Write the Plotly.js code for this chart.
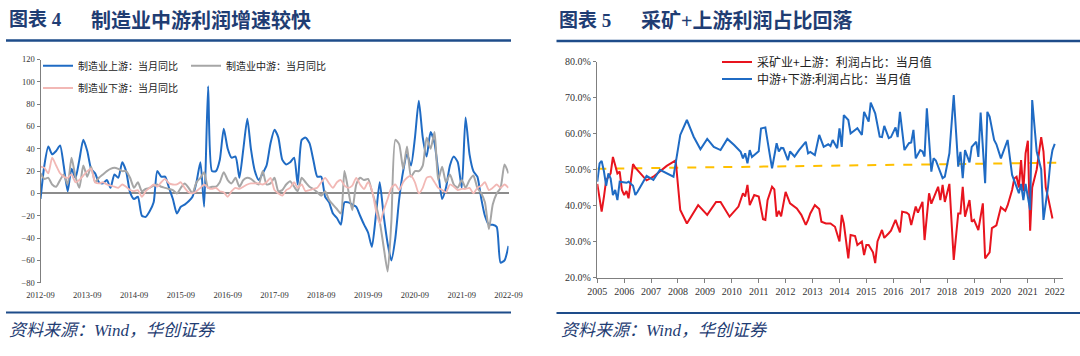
<!DOCTYPE html>
<html><head><meta charset="utf-8">
<script src="https://cdn.plot.ly/plotly-3.0.1.min.js"></script>
<style>html,body{margin:0;padding:0;background:#fff;}#chart{width:1080px;height:356px;}</style>
</head><body><div id="chart"></div>
<script>
// ---------- Chart 4: monthly YoY (%) ----------
const months = ['2012-09','2012-10','2012-11','2012-12',
'2013-01','2013-02','2013-03','2013-04','2013-05','2013-06','2013-07','2013-08','2013-09','2013-10','2013-11','2013-12',
'2014-01','2014-02','2014-03','2014-04','2014-05','2014-06','2014-07','2014-08','2014-09','2014-10','2014-11','2014-12',
'2015-01','2015-02','2015-03','2015-04','2015-05','2015-06','2015-07','2015-08','2015-09','2015-10','2015-11','2015-12',
'2016-01','2016-02','2016-03','2016-04','2016-05','2016-06','2016-07','2016-08','2016-09','2016-10','2016-11','2016-12',
'2017-01','2017-02','2017-03','2017-04','2017-05','2017-06','2017-07','2017-08','2017-09','2017-10','2017-11','2017-12',
'2018-01','2018-02','2018-03','2018-04','2018-05','2018-06','2018-07','2018-08','2018-09','2018-10','2018-11','2018-12',
'2019-01','2019-02','2019-03','2019-04','2019-05','2019-06','2019-07','2019-08','2019-09','2019-10','2019-11','2019-12',
'2020-01','2020-02','2020-03','2020-04','2020-05','2020-06','2020-07','2020-08','2020-09','2020-10','2020-11','2020-12',
'2021-01','2021-02','2021-03','2021-04','2021-05','2021-06','2021-07','2021-08','2021-09','2021-10','2021-11','2021-12',
'2022-01','2022-02','2022-03','2022-04','2022-05','2022-06','2022-07','2022-08','2022-09'];

const upstream = [-5,25,42,35,38,43,25,2,22,14,
30,48,38,22,18,10,9,12,5,17,
14,28,20,1,-5,-3,-20,-21,-16,-8,
20,15,15,5,-5,-18,-12,-10,-7,-3,
10,28,-12,96,20,20,30,58,40,32,
33,14,40,67,40,20,12,18,25,45,
57,50,30,26,28,32,8,48,50,45,
30,15,15,-3,-8,-18,-22,-28,-8,-8,
-10,-12,-20,-28,-35,-48,-20,10,-20,-45,
-60,-40,-5,20,35,25,50,83,50,33,
55,45,20,-5,5,25,33,28,5,68,
35,20,15,-5,-20,-28,-28,-30,-62,-60,
-47];

const midstream = [18,13,14,8,6,12,17,8,32,15,
5,25,15,24,10,14,17,20,22,23,
22,20,20,14,5,10,2,4,5,7,
8,6,5,4,3,0,5,9,5,0,
10,14,19,5,6,6,10,19,12,9,
14,6,12,14,13,10,8,20,8,9,
14,2,3,8,11,6,2,14,10,6,
4,1,-2,2,-6,-10,-14,-18,20,2,
-15,8,14,12,13,2,-10,-25,-48,-70,
-25,48,44,22,42,15,20,20,25,50,
40,55,12,24,10,17,8,5,12,5,
12,16,5,0,-8,-32,-10,0,5,26,
18];

const downstream = [24,23,18,32,25,18,15,14,17,10,
12,16,20,22,10,9,10,8,7,6,
5,8,6,3,2,3,-3,2,5,8,
6,10,13,9,8,8,10,5,1,0,
2,5,8,5,4,5,2,1,-3,2,
5,4,6,8,9,9,9,8,10,14,
3,0,-2,3,5,10,5,8,2,3,
4,5,10,14,9,5,10,12,7,5,
7,14,8,4,10,3,-15,-27,-15,-5,
5,8,3,10,14,16,10,0,5,14,
15,10,5,3,1,8,6,3,4,4,
5,0,5,7,10,3,5,8,5,8,
5];

// ---------- Chart 5: profit share (%) ----------
const redDates = ['2005-01','2005-02','2005-03','2005-04','2005-05','2005-07','2005-08','2005-09','2005-10','2005-11','2005-12',
'2006-01','2006-02','2006-03','2006-05','2006-06','2006-08','2006-11','2007-02','2007-05','2007-08','2007-12',
'2008-02','2008-05','2008-10','2009-02','2009-06','2009-08','2009-12','2010-04','2010-06','2010-07','2010-08','2010-09','2010-11',
'2011-01','2011-03','2011-04','2011-05','2011-07','2011-08','2011-09','2011-10','2011-11','2012-01','2012-03','2012-06','2012-08','2012-10','2012-11','2012-12',
'2013-02','2013-04','2013-05','2013-07','2013-09','2013-11','2014-01','2014-02','2014-03','2014-05','2014-06','2014-08','2014-09','2014-11','2014-12',
'2015-01','2015-02','2015-04','2015-05','2015-06','2015-08','2015-09','2015-11','2015-12','2016-02','2016-03','2016-04','2016-05','2016-07','2016-08','2016-09','2016-11','2016-12',
'2017-02','2017-03','2017-05','2017-06','2017-09','2017-10','2017-11','2017-12','2018-02','2018-04','2018-06','2018-07','2018-08','2018-09','2018-11','2018-12',
'2019-01','2019-03','2019-05','2019-06','2019-08','2019-09','2019-11','2019-12','2020-01','2020-03','2020-04','2020-06','2020-07','2020-08','2020-09','2020-10','2020-11','2020-12',
'2021-01','2021-02','2021-03','2021-05','2021-07','2021-08','2021-09','2021-10','2021-12'];
const redVals = [46,41.5,38.3,42.4,47,48.9,53.5,51.2,48.9,49.4,44.3,
42.9,44,42,51.5,50.5,49,47,48,49.5,51,52.5,
38.75,35,40.1,37.4,41,41,36.9,39.7,43.4,42.5,45.7,40.1,42.9,
42.5,36.2,36,41.5,45.2,44.5,36.9,38.5,37,43.8,40.6,39.2,37.4,34.6,36,37.8,
40.1,39,35.5,35,35,34.1,30,37.4,35,25.3,31.8,31.5,29,30,26.25,
29,29,27,24,30,33.2,31,32.3,33,36,34.5,32.5,38.3,38,37.5,34.6,39.7,38,
41,30.4,43.4,40.5,45.2,41.5,45.7,41,46,24.9,37.8,37.8,45.2,36.9,41.5,35.5,
36,33.2,40.6,25.3,27,33.7,34.5,36.9,39.5,38.5,40,44.3,47.5,48,45,52.6,44,54.5,
58,33,45,50,59,55,45,42.4,36.4];

const blueDates = ['2005-01','2005-02','2005-03','2005-04','2005-05','2005-06','2005-07','2005-08','2005-09','2005-10','2005-11',
'2006-02','2006-03','2006-05','2006-06','2006-07','2006-11','2007-02','2007-05','2007-08','2007-11',
'2008-02','2008-05','2008-08','2008-11','2009-02','2009-05','2009-08','2009-11','2010-02','2010-05','2010-06','2010-07','2010-08','2010-09','2010-10','2010-11',
'2011-01','2011-02','2011-04','2011-06','2011-07','2011-09','2011-10','2011-11','2011-12','2012-02','2012-03','2012-05','2012-07','2012-10','2012-11','2012-12',
'2013-02','2013-04','2013-06','2013-08','2013-09','2013-10','2013-12','2014-01','2014-02','2014-03','2014-05','2014-06','2014-08','2014-09','2014-11','2014-12',
'2015-02','2015-03','2015-05','2015-07','2015-08','2015-09','2015-11','2015-12','2016-02','2016-03','2016-04','2016-06','2016-08','2016-09','2016-10','2016-11',
'2017-01','2017-02','2017-03','2017-04','2017-06','2017-07','2017-08','2017-10','2017-11','2017-12','2018-02','2018-04','2018-06','2018-07','2018-08','2018-09','2018-11','2018-12',
'2019-02','2019-03','2019-04','2019-06','2019-07','2019-08','2019-10','2019-11','2020-01','2020-04','2020-06','2020-08','2020-09','2020-10','2020-11','2020-12',
'2021-02','2021-03','2021-05','2021-07','2021-08','2021-10','2021-11','2021-12','2022-01'];
const blueVals = [46.6,51.7,52.4,49.5,45.5,48.9,47.5,42.9,44.3,41.5,46.6,
46.3,46.6,45.5,42.9,43.8,48.2,47.1,49.9,48.9,48,
59.6,63.75,59.1,55.6,58.5,56.3,55.4,58.5,56.8,54.9,53.1,54.5,51.7,55.4,53.5,54,
55.1,61.4,61.7,54,50.3,57.3,55,56,55.9,52.6,55,53.6,55.4,57.7,54.5,54.9,
54,59.6,56.3,57,56.5,58.2,55.9,61.4,56.3,65.1,63.75,60,61,61.5,59.6,66,
63.3,68.6,65.6,59.1,59,62.1,58.7,59,61.7,59,66,55.4,57.3,57.5,61,53.1,
55.4,55,53.6,67,49.4,53.1,52.5,49.4,47.6,48,54.5,70.7,50.8,54.9,47.6,55.4,52,56.3,
57.7,53.5,65.8,46.2,66,64.7,58.2,57,53.1,58.2,48.5,45.2,43.4,46,41.5,46,
38.75,69.3,55,50,36,45,51.7,55.4,57.1];

const trendDates = ['2005-01','2022-04'];
const trendVals = [50.2, 51.9];

// ---------- layout helpers (pixel -> paper) ----------
const W = 1080, H = 356;
const fx = x => x / W;
const fy = y => 1 - y / H;

const tickFontL = {family: 'Liberation Serif, Times New Roman, serif', size: 8.5, color: '#333'};
const tickFontR = {family: 'Liberation Serif, Times New Roman, serif', size: 10, color: '#333'};
const cjk = 'Noto Sans CJK SC, sans-serif';
const navy = '#1F3D73';
const ruleColor = '#1E4C8A';

const traces = [
  {x: months, y: upstream, type: 'scatter', mode: 'lines', name: '制造业上游：当月同比',
   line: {color: '#1F6BC4', width: 2, shape: 'spline', smoothing: 0.6}, xaxis: 'x', yaxis: 'y', legend: 'legend'},
  {x: months, y: midstream, type: 'scatter', mode: 'lines', name: '制造业中游：当月同比',
   line: {color: '#A6A6A6', width: 2, shape: 'spline', smoothing: 0.6}, xaxis: 'x', yaxis: 'y', legend: 'legend'},
  {x: months, y: downstream, type: 'scatter', mode: 'lines', name: '制造业下游：当月同比',
   line: {color: '#F2B8B5', width: 1.8, shape: 'spline', smoothing: 0.6}, xaxis: 'x', yaxis: 'y', legend: 'legend2'},
  {x: trendDates, y: trendVals, type: 'scatter', mode: 'lines', showlegend: false, hoverinfo: 'skip',
   line: {color: '#FFC000', width: 2, dash: 'dash'}, xaxis: 'x2', yaxis: 'y2'},
  {x: redDates, y: redVals, type: 'scatter', mode: 'lines', name: '采矿业+上游：利润占比：当月值',
   line: {color: '#E8141E', width: 2}, xaxis: 'x2', yaxis: 'y2', legend: 'legend3'},
  {x: blueDates, y: blueVals, type: 'scatter', mode: 'lines', name: '中游+下游:利润占比：当月值',
   line: {color: '#1F6BC4', width: 2}, xaxis: 'x2', yaxis: 'y2', legend: 'legend4'}
];

const legendBase = {orientation: 'h', bgcolor: 'rgba(0,0,0,0)', borderwidth: 0, yanchor: 'middle', xanchor: 'left',
  font: {family: cjk, size: 10, color: '#222'}, itemwidth: 30};

const layout = {
  width: W, height: H, margin: {l: 0, r: 0, t: 0, b: 0},
  paper_bgcolor: '#fff', plot_bgcolor: 'rgba(0,0,0,0)',
  xaxis: {domain: [fx(40.5), fx(508.5)], anchor: 'y', type: 'date', range: ['2012-09-01', '2022-09-01'],
    tick0: '2012-09-01', dtick: 'M12', tickformat: '%Y-%m', showgrid: false, zeroline: false, showline: false,
    ticks: '', ticklabelstandoff: 6, tickfont: tickFontL, fixedrange: true},
  yaxis: {domain: [fy(282.7), fy(59.5)], anchor: 'x', range: [-80, 120], dtick: 20, showgrid: false,
    showline: true, linecolor: '#7F7F7F', linewidth: 1, ticks: 'outside', ticklen: 3, tickcolor: '#7F7F7F',
    zeroline: true, zerolinecolor: '#8C8C8C', zerolinewidth: 2, tickfont: tickFontL, fixedrange: true},
  xaxis2: {domain: [fx(597.3), fx(1063)], anchor: 'y2', type: 'date', range: ['2005-01-01', '2022-04-23'],
    tick0: '2005-01-01', dtick: 'M12', tickformat: '%Y', showgrid: false, zeroline: false, showline: true,
    linecolor: '#7F7F7F', linewidth: 1.5, ticks: 'outside', ticklen: 4, tickcolor: '#7F7F7F', tickfont: tickFontR},
  yaxis2: {domain: [fy(277.5), fy(61.5)], anchor: 'x2', range: [20, 80], dtick: 10, tickformat: '.1f', ticksuffix: '%',
    showgrid: false, zeroline: false, showline: true, linecolor: '#7F7F7F', linewidth: 1.5, ticks: 'outside',
    ticklen: 3, tickcolor: '#7F7F7F', tickfont: tickFontR},
  legend: Object.assign({}, legendBase, {x: fx(38), y: fy(65.7), entrywidth: 103, entrywidthmode: 'pixels'}),
  legend2: Object.assign({}, legendBase, {x: fx(38), y: fy(88)}),
  legend3: Object.assign({}, legendBase, {x: fx(717), y: fy(62), font: {family: cjk, size: 12, color: '#222'}}),
  legend4: Object.assign({}, legendBase, {x: fx(717), y: fy(79), font: {family: cjk, size: 12, color: '#222'}}),
  shapes: [
    {type: 'line', xref: 'paper', yref: 'paper', x0: fx(6), x1: fx(511), y0: fy(40.5), y1: fy(40.5), line: {color: ruleColor, width: 2.5}},
    {type: 'line', xref: 'paper', yref: 'paper', x0: fx(556.5), x1: fx(1080), y0: fy(41), y1: fy(41), line: {color: ruleColor, width: 2.5}},
    {type: 'line', xref: 'paper', yref: 'paper', x0: fx(6), x1: fx(511), y0: fy(312.5), y1: fy(312.5), line: {color: ruleColor, width: 2}},
    {type: 'line', xref: 'paper', yref: 'paper', x0: fx(556.5), x1: fx(1080), y0: fy(313), y1: fy(313), line: {color: ruleColor, width: 2}}
  ],
  annotations: [
    {xref: 'paper', yref: 'paper', x: fx(7), y: fy(19.5), xanchor: 'left', yanchor: 'middle', showarrow: false,
     text: '<b>图表 4</b>', font: {family: 'Liberation Serif, Noto Sans CJK SC, serif', size: 19, color: navy}},
    {xref: 'paper', yref: 'paper', x: fx(89), y: fy(19.5), xanchor: 'left', yanchor: 'middle', showarrow: false,
     text: '<b>制造业中游利润增速较快</b>', font: {family: cjk, size: 20, color: navy}},
    {xref: 'paper', yref: 'paper', x: fx(557), y: fy(20), xanchor: 'left', yanchor: 'middle', showarrow: false,
     text: '<b>图表 5</b>', font: {family: 'Liberation Serif, Noto Sans CJK SC, serif', size: 19, color: navy}},
    {xref: 'paper', yref: 'paper', x: fx(639), y: fy(20), xanchor: 'left', yanchor: 'middle', showarrow: false,
     text: '<b>采矿+上游利润占比回落</b>', font: {family: 'Liberation Serif, Noto Sans CJK SC, serif', size: 20, color: navy}},
    {xref: 'paper', yref: 'paper', x: fx(7), y: fy(330), xanchor: 'left', yanchor: 'middle', showarrow: false,
     text: '<i>资料来源：Wind，华创证券</i>', font: {family: 'Liberation Serif, Noto Sans CJK SC, serif', size: 17, color: navy}},
    {xref: 'paper', yref: 'paper', x: fx(559), y: fy(330), xanchor: 'left', yanchor: 'middle', showarrow: false,
     text: '<i>资料来源：Wind，华创证券</i>', font: {family: 'Liberation Serif, Noto Sans CJK SC, serif', size: 17, color: navy}}
  ]
};

Plotly.newPlot('chart', traces, layout, {staticPlot: true, displayModeBar: false});
</script></body></html>
